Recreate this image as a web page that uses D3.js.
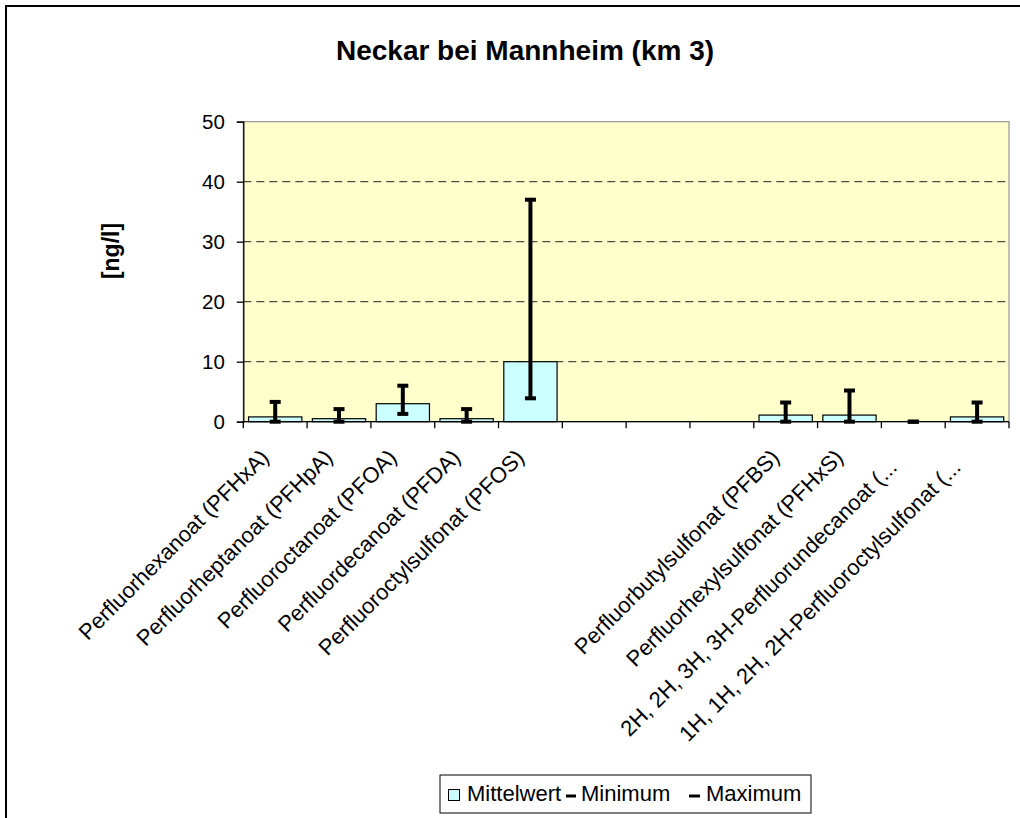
<!DOCTYPE html>
<html>
<head>
<meta charset="utf-8">
<script src="https://cdn.jsdelivr.net/npm/d3@7"></script>
<style>
  html, body { margin: 0; padding: 0; background: #fff; }
  svg { display: block; font-family: Arial, "Liberation Sans", sans-serif; }
</style>
</head>
<body>
<svg id="chart" width="1020" height="818"></svg>
<script>
// ---- data ----
const categories = [
  "Perfluorhexanoat (PFHxA)",
  "Perfluorheptanoat (PFHpA)",
  "Perfluoroctanoat (PFOA)",
  "Perfluordecanoat (PFDA)",
  "Perfluoroctylsulfonat (PFOS)",
  "", " ", "  ",
  "Perfluorbutylsulfonat (PFBS)",
  "Perfluorhexylsulfonat (PFHxS)",
  "2H, 2H, 3H, 3H-Perfluorundecanoat (...",
  "1H, 1H, 2H, 2H-Perfluoroctylsulfonat (..."
];
const mittelwert = [0.8, 0.5, 3.0, 0.5, 10.0, null, null, null, 1.1, 1.1, 0, 0.8];
const minimum    = [0,   0,   1.3, 0,   3.9,  null, null, null, 0,   0,   0, 0];
const maximum    = [3.3, 2.1, 6.0, 2.1, 37.0, null, null, null, 3.2, 5.2, 0, 3.2];
const yTicks = [0, 10, 20, 30, 40, 50];
const titleText = "Neckar bei Mannheim (km 3)";
const yTitle = "[ng/l]";
const legendLabels = ["Mittelwert", "Minimum", "Maximum"];

// ---- layout ----
const svg = d3.select("#chart");
const L = 243.3, R = 1009, T = 121.7, B = 421.7;

const x = d3.scaleBand().domain(categories).range([L, R]).padding(0);
const y = d3.scaleLinear().domain([0, 50]).range([B, T]);
const barW = x.bandwidth() * 0.835;

// outer frame
svg.append("rect").attr("x", 6).attr("y", 6).attr("width", 1030).attr("height", 830)
  .attr("fill", "#fff").attr("stroke", "#000").attr("stroke-width", 2);

// plot background
svg.append("rect").attr("x", L).attr("y", T).attr("width", R - L).attr("height", B - T)
  .attr("fill", "#FFFFCC").attr("stroke", "#808080").attr("stroke-width", 1);

// gridlines
svg.append("g").selectAll("line").data(yTicks.filter(d => d > 0 && d < 50)).join("line")
  .attr("x1", L).attr("x2", R)
  .attr("y1", d => y(d)).attr("y2", d => y(d))
  .attr("stroke", "#222").attr("stroke-width", 1).attr("stroke-dasharray", "8,5");

// bars
const idx = d3.range(categories.length);
svg.append("g").selectAll("rect").data(idx.filter(i => mittelwert[i] != null && mittelwert[i] > 0)).join("rect")
  .attr("x", i => x(categories[i]) + (x.bandwidth() - barW) / 2)
  .attr("width", barW)
  .attr("y", i => y(mittelwert[i]))
  .attr("height", i => y(0) - y(mittelwert[i]))
  .attr("fill", "#CCFFFF").attr("stroke", "#000").attr("stroke-width", 1.2);

// y axis
const yAxis = svg.append("g").attr("transform", `translate(${L},0)`)
  .call(d3.axisLeft(y).tickValues(yTicks).tickSize(6.5).tickPadding(12));
yAxis.select(".domain").attr("stroke", "#000").attr("stroke-width", 1.3);
yAxis.selectAll(".tick line").attr("stroke", "#000").attr("stroke-width", 1.3);
yAxis.selectAll("text").attr("font-size", 20.5).attr("font-family", "Arial, 'Liberation Sans', sans-serif").attr("fill", "#000");

// x axis line and ticks at category boundaries
svg.append("line").attr("x1", L).attr("x2", R).attr("y1", B).attr("y2", B)
  .attr("stroke", "#000").attr("stroke-width", 1.3);
svg.append("g").selectAll("line").data(d3.range(categories.length + 1)).join("line")
  .attr("x1", i => L + i * x.step()).attr("x2", i => L + i * x.step())
  .attr("y1", B).attr("y2", B + 6.5)
  .attr("stroke", "#000").attr("stroke-width", 1.3);

// error bars (min - max)
const eb = svg.append("g").selectAll("g").data(idx.filter(i => maximum[i] != null)).join("g")
  .attr("transform", i => `translate(${x(categories[i]) + x.bandwidth() / 2},0)`);
eb.filter(i => maximum[i] > minimum[i]).append("line")
  .attr("x1", 0).attr("x2", 0)
  .attr("y1", i => y(minimum[i])).attr("y2", i => y(maximum[i]))
  .attr("stroke", "#000").attr("stroke-width", 4);
eb.append("line").attr("x1", -5.5).attr("x2", 5.5)
  .attr("y1", i => y(maximum[i])).attr("y2", i => y(maximum[i]))
  .attr("stroke", "#000").attr("stroke-width", 4);
eb.append("line").attr("x1", -5.5).attr("x2", 5.5)
  .attr("y1", i => y(minimum[i])).attr("y2", i => y(minimum[i]))
  .attr("stroke", "#000").attr("stroke-width", 4);

// x labels rotated
svg.append("g").selectAll("text").data(categories).join("text")
  .attr("transform", d => `translate(${x(d) + x.bandwidth() / 2 - 5},${B + 37}) rotate(-45)`)
  .attr("text-anchor", "end")
  .attr("dx", d => d.endsWith("...") ? -14 : 0)
  .attr("font-size", 22)
  .attr("fill", "#000")
  .text(d => d.trim());

// title
svg.append("text").attr("x", 525).attr("y", 60).attr("text-anchor", "middle")
  .attr("font-size", 28).attr("font-weight", "bold").text(titleText);

// y title
svg.append("text").attr("transform", "translate(119,251) rotate(-90)")
  .attr("text-anchor", "middle").attr("font-size", 23).attr("font-weight", "bold").text(yTitle);

// legend
const lg = svg.append("g");
lg.append("rect").attr("x", 440).attr("y", 775).attr("width", 371).attr("height", 38)
  .attr("fill", "#fff").attr("stroke", "#000").attr("stroke-width", 1);
lg.append("rect").attr("x", 448.5).attr("y", 789.5).attr("width", 11).attr("height", 11)
  .attr("fill", "#CCFFFF").attr("stroke", "#000").attr("stroke-width", 1);
lg.append("text").attr("x", 467).attr("y", 801).attr("font-size", 22).text(legendLabels[0]);
lg.append("line").attr("x1", 566).attr("x2", 576).attr("y1", 796).attr("y2", 796)
  .attr("stroke", "#000").attr("stroke-width", 3);
lg.append("text").attr("x", 581).attr("y", 801).attr("font-size", 22).text(legendLabels[1]);
lg.append("line").attr("x1", 689).attr("x2", 700).attr("y1", 796).attr("y2", 796)
  .attr("stroke", "#000").attr("stroke-width", 3);
lg.append("text").attr("x", 706).attr("y", 801).attr("font-size", 22).text(legendLabels[2]);
</script>
</body>
</html>
